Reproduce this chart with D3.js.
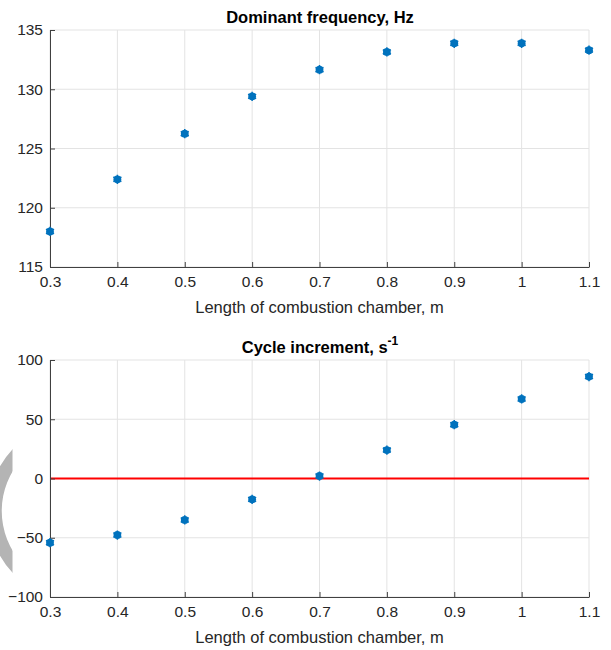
<!DOCTYPE html>
<html>
<head>
<meta charset="utf-8">
<script src="https://cdn.jsdelivr.net/npm/d3@7/dist/d3.min.js"></script>
<style>
  body { margin: 0; background: #fff; }
  text { font-family: 'Liberation Sans', Arial, sans-serif; }
</style>
</head>
<body>
<div id="app"></div>
<script>
const lengths = [0.3, 0.4, 0.5, 0.6, 0.7, 0.8, 0.9, 1.0, 1.1];
const frequency = [118.0, 122.4, 126.25, 129.4, 131.65, 133.15, 133.88, 133.88, 133.3];
const increment = [-54.2, -47.7, -35.0, -17.6, 2.1, 24.0, 45.4, 67.1, 86.0];
const xTicks = [0.3, 0.4, 0.5, 0.6, 0.7, 0.8, 0.9, 1, 1.1];
const freqTicks = [115, 120, 125, 130, 135];
const incTicks = [-100, -50, 0, 50, 100];

const svg = d3.select('#app').append('svg')
    .attr('width', 611)
    .attr('height', 650);

const axisColor = '#404040';
const gridColor = '#e3e3e3';
const markColor = '#0072bd';

// gray watermark fragment at the left edge
svg.append('clipPath')
    .attr('id', 'wm')
  .append('rect')
    .attr('x', 0).attr('y', 400)
    .attr('width', 12.5).attr('height', 220);
svg.append('circle')
    .attr('clip-path', 'url(#wm)')
    .attr('cx', 79).attr('cy', 511)
    .attr('r', 84)
    .attr('fill', 'none')
    .attr('stroke', '#b4b4b4')
    .attr('stroke-width', 13.5);

function panel(top, values, yDomain, yTicks, zeroLine) {
  const x = d3.scaleLinear().domain([0.3, 1.1]).range([50, 589]);
  const y = d3.scaleLinear().domain(yDomain).range([top + 237, top]);
  const g = svg.append('g');

  // grid
  g.append('g')
    .selectAll('line.vg')
    .data(xTicks)
    .enter().append('line')
      .attr('x1', d => x(d)).attr('x2', d => x(d))
      .attr('y1', y.range()[0]).attr('y2', y.range()[1])
      .attr('stroke', gridColor);
  g.append('g')
    .selectAll('line.hg')
    .data(yTicks)
    .enter().append('line')
      .attr('x1', x.range()[0]).attr('x2', x.range()[1])
      .attr('y1', d => y(d)).attr('y2', d => y(d))
      .attr('stroke', gridColor);

  if (zeroLine) {
    g.append('line')
      .attr('x1', x(0.3)).attr('x2', x(1.1))
      .attr('y1', y(0)).attr('y2', y(0))
      .attr('stroke', '#ff0000')
      .attr('stroke-width', 2);
  }

  const xAxis = g.append('g')
      .attr('transform', `translate(0,${y.range()[0]})`)
      .call(d3.axisBottom(x).tickValues(xTicks).tickSizeInner(-5).tickSizeOuter(0)
        .tickPadding(9).tickFormat(d3.format('')));
  const yAxis = g.append('g')
      .attr('transform', `translate(${x.range()[0]},0)`)
      .call(d3.axisLeft(y).tickValues(yTicks).tickSizeInner(-5).tickSizeOuter(0)
        .tickPadding(7));
  [xAxis, yAxis].forEach(a => {
    a.select('.domain').attr('stroke', axisColor);
    a.selectAll('.tick line').attr('stroke', axisColor);
    a.selectAll('.tick text')
      .attr('fill', '#262626')
      .attr('font-size', 15.5)
      .style('font-family', "'Liberation Sans', Arial, sans-serif");
  });

  const pts = g.append('g')
    .selectAll('g.pt')
    .data(lengths.map((l, i) => ({ l, v: values[i] })))
    .enter().append('g')
      .attr('transform', d => `translate(${x(d.l)},${y(d.v)})`);
  pts.append('circle')
      .attr('r', 3.9)
      .attr('fill', markColor);
  pts.append('path')
      .attr('d', d3.symbol(d3.symbolAsterisk, 60)())
      .attr('stroke', markColor)
      .attr('stroke-width', 1.5)
      .attr('fill', 'none');

  g.append('text')
      .attr('x', (x.range()[0] + x.range()[1]) / 2)
      .attr('y', y.range()[0] + 46)
      .attr('text-anchor', 'middle')
      .attr('fill', '#262626')
      .attr('font-size', 16.5)
      .text('Length of combustion chamber, m');

  return { x, y, g };
}

const p1 = panel(30, frequency, [115, 135], freqTicks, false);
p1.g.append('text')
    .attr('x', 320).attr('y', 22.5)
    .attr('text-anchor', 'middle')
    .attr('font-weight', 'bold')
    .attr('font-size', 16.5)
    .attr('fill', '#000')
    .text('Dominant frequency, Hz');

const p2 = panel(360, increment, [-100, 100], incTicks, true);
const t2 = p2.g.append('text')
    .attr('x', 320).attr('y', 352.5)
    .attr('text-anchor', 'middle')
    .attr('font-weight', 'bold')
    .attr('font-size', 16.5)
    .attr('fill', '#000');
t2.append('tspan').text('Cycle increment, s');
t2.append('tspan')
    .attr('dy', -8)
    .attr('font-size', 12)
    .text('-1');
</script>
</body>
</html>
